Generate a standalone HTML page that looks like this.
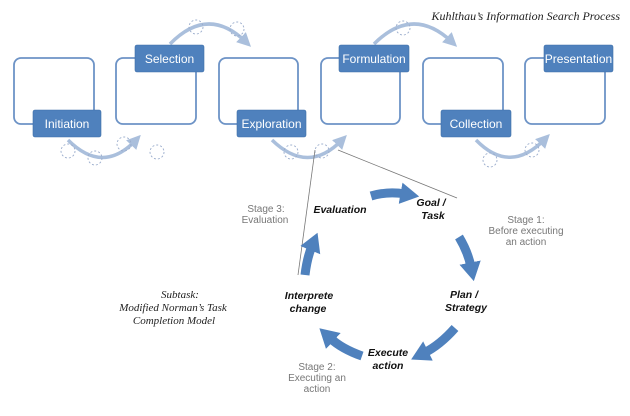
<!DOCTYPE html>
<html><head><meta charset="utf-8"><style>
body{margin:0;background:#fff;width:630px;height:416px;overflow:hidden}
svg{display:block}
.lb{font-family:"Liberation Sans",sans-serif;font-size:12px;fill:#fff;text-anchor:middle}
.bi{font-family:"Liberation Sans",sans-serif;font-size:10.5px;font-weight:bold;font-style:italic;fill:#111;text-anchor:middle}
.st{font-family:"Liberation Sans",sans-serif;font-size:10px;fill:#777;text-anchor:middle}
.sr{font-family:"Liberation Serif",serif;font-style:italic;font-size:11px;fill:#222;text-anchor:middle}
</style></head><body>
<svg width="630" height="416" viewBox="0 0 630 416">
<defs>
<marker id="la" markerWidth="4" markerHeight="4" refX="2" refY="2" orient="auto" markerUnits="strokeWidth"><path d="M0,0 L4,2 L0,4 Z" fill="#aabfdc"/></marker>
<marker id="ba" markerWidth="2.1" markerHeight="2.4" refX="0.5" refY="1.2" orient="auto" markerUnits="strokeWidth"><path d="M0,0 L2.1,1.2 L0,2.4 Z" fill="#4f81bd"/></marker>
</defs>
<g fill="none" stroke="#6d93c6" stroke-width="1.8">
<rect x="14" y="58" width="80" height="66" rx="7"/>
<rect x="116" y="58" width="80" height="66" rx="7"/>
<rect x="219" y="58" width="79" height="66" rx="7"/>
<rect x="321" y="58" width="79" height="66" rx="7"/>
<rect x="423" y="58" width="80" height="66" rx="7"/>
<rect x="525" y="58" width="80" height="66" rx="7"/>
</g>
<g fill="none" stroke="#aabfdc" stroke-width="3.5" marker-end="url(#la)">
<path d="M68,140 Q103,175 136,140"/>
<path d="M170,44 Q208,5 246,42"/>
<path d="M272,140 Q308,175 342,140"/>
<path d="M374,44 Q413,5 452,42"/>
<path d="M476,140 Q510,175 545,139"/>
</g>
<g fill="none" stroke="#9aaccc" stroke-width="0.9" stroke-dasharray="2,2">
<circle cx="68" cy="151" r="7"/><circle cx="95" cy="158" r="7"/><circle cx="124" cy="144" r="7"/><circle cx="157" cy="152" r="7"/>
<circle cx="196" cy="27" r="7"/><circle cx="237" cy="29" r="7"/>
<circle cx="291" cy="152" r="7"/><circle cx="322" cy="151" r="7"/>
<circle cx="403" cy="28" r="7"/>
<circle cx="490" cy="160" r="7"/><circle cx="532" cy="150" r="7"/>
</g>
<g fill="#4f81bd" stroke="#3f6fa8" stroke-width="0.6">
<rect x="33" y="110" width="68" height="27" rx="2"/>
<rect x="135" y="45" width="69" height="27" rx="2"/>
<rect x="237" y="110" width="69" height="27" rx="2"/>
<rect x="339" y="45" width="70" height="27" rx="2"/>
<rect x="441" y="110" width="70" height="27" rx="2"/>
<rect x="544" y="45" width="69" height="27" rx="2"/>
</g>
<text class="lb" x="67" y="128">Initiation</text>
<text class="lb" x="169.5" y="63">Selection</text>
<text class="lb" x="271.5" y="128">Exploration</text>
<text class="lb" x="374" y="63">Formulation</text>
<text class="lb" x="476" y="128">Collection</text>
<text class="lb" x="578.5" y="63">Presentation</text>
<text x="620" y="20" style="font-family:'Liberation Serif',serif;font-style:italic;font-size:12px;fill:#222;text-anchor:end">Kuhlthau’s Information Search Process</text>
<g stroke="#777" stroke-width="0.8">
<line x1="315" y1="150" x2="298" y2="275"/>
<line x1="338" y1="150" x2="457" y2="198"/>
</g>
<g fill="none" stroke="#4f81bd" stroke-width="9" marker-end="url(#ba)">
<path d="M371,196 Q388,191 405,194"/>
<path d="M459,237 Q468,252 471,267"/>
<path d="M455,328 Q440,345 424,353"/>
<path d="M362,356 Q342,349 330,338"/>
<path d="M305,275 Q307,258 312,246"/>
</g>
<text class="bi" x="340" y="213">Evaluation</text>
<text class="bi" x="431" y="206">Goal /</text><text class="bi" x="433" y="219">Task</text>
<text class="bi" x="464" y="298">Plan /</text><text class="bi" x="466" y="311">Strategy</text>
<text class="bi" x="388" y="356">Execute</text><text class="bi" x="388" y="369">action</text>
<text class="bi" x="309" y="299">Interprete</text><text class="bi" x="308" y="312">change</text>
<text class="st" x="266" y="212">Stage 3:</text><text class="st" x="265" y="223">Evaluation</text>
<text class="st" x="526" y="223">Stage 1:</text><text class="st" x="526" y="234">Before executing</text><text class="st" x="526" y="245">an action</text>
<text class="st" x="317" y="370">Stage 2:</text><text class="st" x="317" y="381">Executing an</text><text class="st" x="317" y="392">action</text>
<text class="sr" x="180" y="298">Subtask:</text>
<text class="sr" x="173" y="311">Modified Norman’s Task</text>
<text class="sr" x="174" y="324">Completion Model</text>
</svg>
</body></html>
